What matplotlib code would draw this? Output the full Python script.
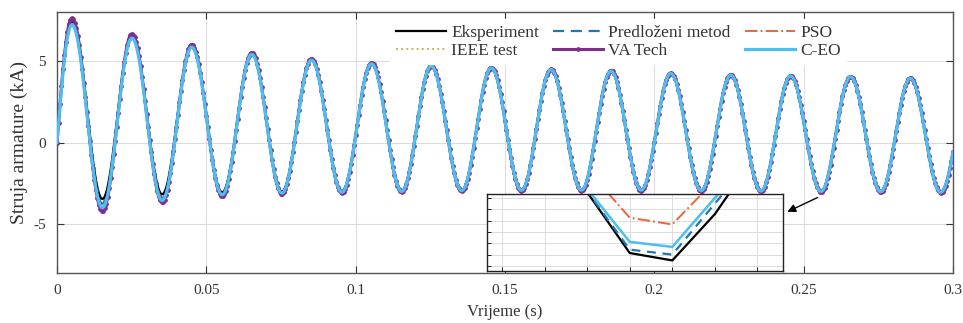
import numpy as np
import matplotlib
matplotlib.use("Agg")
import matplotlib.pyplot as plt

plt.rcParams['font.family'] = ['Liberation Serif', 'DejaVu Serif']

# ---------------- data ----------------
# times of current peaks and troughs (s); first trough and last peak lie just outside the plotted range
t_peaks = [0.0050, 0.0251, 0.0451, 0.0652, 0.0852, 0.1053, 0.1253, 0.1454, 0.1654,
           0.1855, 0.2055, 0.2256, 0.2456, 0.2657, 0.2857, 0.3060]
t_troughs = [-0.0050, 0.0152, 0.0352, 0.0553, 0.0753, 0.0954, 0.1154, 0.1355, 0.1555,
             0.1756, 0.1956, 0.2157, 0.2357, 0.2558, 0.2758, 0.2959]

peaks_exp = [7.43, 6.50, 5.90, 5.45, 5.10, 4.85, 4.70, 4.58, 4.48, 4.38, 4.24, 4.14, 4.09, 4.04, 3.94, 3.90]
troughs_exp = [-7.43, -3.46, -3.17, -3.05, -3.00, -2.98, -2.95, -2.92, -2.90, -2.90, -2.90, -2.93, -2.96, -2.98, -3.00, -3.05]

peaks_pred = [7.35, 6.45, 5.88, 5.43, 5.08, 4.84, 4.69, 4.58, 4.48, 4.38, 4.24, 4.14, 4.09, 4.04, 3.94, 3.90]
troughs_pred = [-7.35, -3.75, -3.40, -3.15, -3.07, -3.02, -2.97, -2.94, -2.92, -2.92, -2.94, -2.97, -3.00, -3.02, -3.04, -3.06]

peaks_pso = [7.30, 6.42, 5.86, 5.42, 5.07, 4.83, 4.68, 4.57, 4.47, 4.37, 4.23, 4.13, 4.08, 4.03, 3.93, 3.90]
troughs_pso = [-7.30, -3.65, -3.35, -3.12, -3.05, -3.00, -2.96, -2.93, -2.91, -2.91, -2.93, -2.96, -2.99, -3.01, -3.03, -3.05]

peaks_ieee = [7.32, 6.44, 5.87, 5.42, 5.07, 4.83, 4.68, 4.57, 4.47, 4.37, 4.23, 4.13, 4.08, 4.03, 3.93, 3.90]
troughs_ieee = [-7.32, -3.80, -3.45, -3.18, -3.08, -3.02, -2.97, -2.94, -2.92, -2.92, -2.94, -2.97, -3.00, -3.02, -3.05, -3.06]

peaks_va = [7.62, 6.66, 6.00, 5.50, 5.13, 4.88, 4.72, 4.60, 4.50, 4.40, 4.26, 4.16, 4.10, 4.05, 3.95, 3.90]
troughs_va = [-7.62, -4.20, -3.65, -3.28, -3.15, -3.08, -3.03, -2.98, -2.96, -2.95, -2.95, -2.97, -3.00, -3.02, -3.04, -3.07]

peaks_ceo = [7.22, 6.40, 5.85, 5.40, 5.05, 4.82, 4.68, 4.57, 4.47, 4.37, 4.23, 4.13, 4.08, 4.03, 3.93, 3.90]
troughs_ceo = [-7.22, -4.00, -3.55, -3.20, -3.10, -3.05, -3.00, -2.95, -2.93, -2.92, -2.92, -2.95, -2.98, -3.00, -3.02, -3.05]

labels = ['Eksperiment', 'Predloženi metod', 'PSO', 'IEEE test', 'VA Tech', 'C-EO']

# zoomed detail (inset) samples
inset_x = [2, 3, 4, 5, 6, 7]
inset_exp = [4.0, -0.5, -5.84, -6.49, -2.42, 3.0]
inset_pred = [4.0, -0.4, -5.54, -5.98, -1.50, 3.0]
inset_pso = [4.0, 1.5, -2.74, -3.33, 0.54, 3.0]
inset_ceo = [4.0, -0.2, -4.86, -5.30, -1.00, 3.0]


def build(peaks, troughs, t):
    te_all = np.array(t_troughs + t_peaks)
    order = np.argsort(te_all)
    te = te_all[order]
    ve = np.array(troughs + peaks)[order]
    idx = np.clip(np.searchsorted(te, t, side='right') - 1, 0, len(te) - 2)
    t0, t1 = te[idx], te[idx + 1]
    v0, v1 = ve[idx], ve[idx + 1]
    s = (t - t0) / (t1 - t0)
    return v0 + (v1 - v0) * (1 - np.cos(np.pi * s)) / 2


t = np.linspace(0, 0.3, 3001)

fig = plt.figure(figsize=(9.63, 3.23), dpi=100)
ax = fig.add_axes([0.0592, 0.1548, 0.9304, 0.808])

c_exp = '#000000'
c_pred = '#1f78b4'
c_pso = '#e8663a'
c_ieee = '#c9b458'
c_va = '#7e2f8e'
c_ceo = '#4dbeee'

h = []
h += ax.plot(t, build(peaks_exp, troughs_exp, t), color=c_exp, lw=1.6, label=labels[0], zorder=3)
h += ax.plot(t, build(peaks_pred, troughs_pred, t), color=c_pred, lw=1.6, ls=(0, (5, 3)), label=labels[1], zorder=2.9)
h += ax.plot(t, build(peaks_pso, troughs_pso, t), color=c_pso, lw=1.4, ls='-.', label=labels[2], zorder=2.8)
h += ax.plot(t, build(peaks_ieee, troughs_ieee, t), color=c_ieee, lw=1.4, ls=':', label=labels[3], zorder=2.7)
h += ax.plot(t, build(peaks_va, troughs_va, t), color=c_va, lw=2.2, marker='o', ms=2.4, markevery=5,
             label=labels[4], zorder=3.1)
h += ax.plot(t, build(peaks_ceo, troughs_ceo, t), color=c_ceo, lw=2.3, label=labels[5], zorder=3.2)

ax.set_xlim(0, 0.3)
ax.set_ylim(-8, 8)
ax.set_xticks([0, 0.05, 0.1, 0.15, 0.2, 0.25, 0.3])
ax.set_xticklabels(['0', '0.05', '0.1', '0.15', '0.2', '0.25', '0.3'])
ax.set_yticks([-5, 0, 5])
ax.set_yticklabels(['-5', '0', '5'])
ax.tick_params(direction='in', length=5, width=0.8, top=True, right=True, labelsize=11,
               colors='#333333', pad=8)
ax.grid(True, color='#dcdcdc', lw=0.8)
ax.set_axisbelow(True)
for sp in ax.spines.values():
    sp.set_color('#555555')
    sp.set_linewidth(1.0)
ax.set_xlabel('Vrijeme (s)', fontsize=12, color='#333333', labelpad=5)
ax.set_ylabel('Struja armature (kA)', fontsize=14, color='#333333', labelpad=4)

# row-major legend order (matplotlib fills columns first)
order = [0, 3, 1, 4, 2, 5]
leg = ax.legend([h[i] for i in order], [labels[i] for i in order],
                ncol=3, loc='upper left', bbox_to_anchor=(0.372, 0.972), fontsize=12.5,
                frameon=True, facecolor='white', edgecolor='white', framealpha=1,
                handlelength=2.9, handletextpad=0.3, columnspacing=0.8,
                labelspacing=0.12, borderpad=0.3, borderaxespad=0.0)
for txt in leg.get_texts():
    txt.set_color('#333333')
leg.set_zorder(10)

# inset
axi = ax.inset_axes([0.144, -7.9, 0.0991, 4.77], transform=ax.transData)
axi.plot(inset_x, inset_exp, color=c_exp, lw=1.6)
axi.plot(inset_x, inset_pred, color=c_pred, lw=1.6, ls=(0, (4, 3)))
axi.plot(inset_x, inset_pso, color=c_pso, lw=1.4, ls='-.')
axi.plot(inset_x, inset_ceo, color=c_ceo, lw=1.8)
axi.set_xlim(0.65, 7.6)
axi.set_ylim(-7.45, -0.62)
axi.set_xticks([1, 2, 3, 4, 5, 6, 7])
axi.set_yticks([-7, -6, -5, -4, -3, -2, -1])
axi.tick_params(direction='in', length=3, width=0.6, labelbottom=False, labelleft=False)
axi.grid(True, color='#dcdcdc', lw=0.7)
axi.set_facecolor('white')
for sp in axi.spines.values():
    sp.set_color('#222222')
    sp.set_linewidth(1.0)
axi.set_zorder(5)

ax.annotate('', xy=(0.2437, -4.32), xytext=(0.2555, -3.3),
            arrowprops=dict(arrowstyle='-|>', color='black', lw=1.0, mutation_scale=12),
            zorder=6)

fig.savefig('out.png', dpi=100)
